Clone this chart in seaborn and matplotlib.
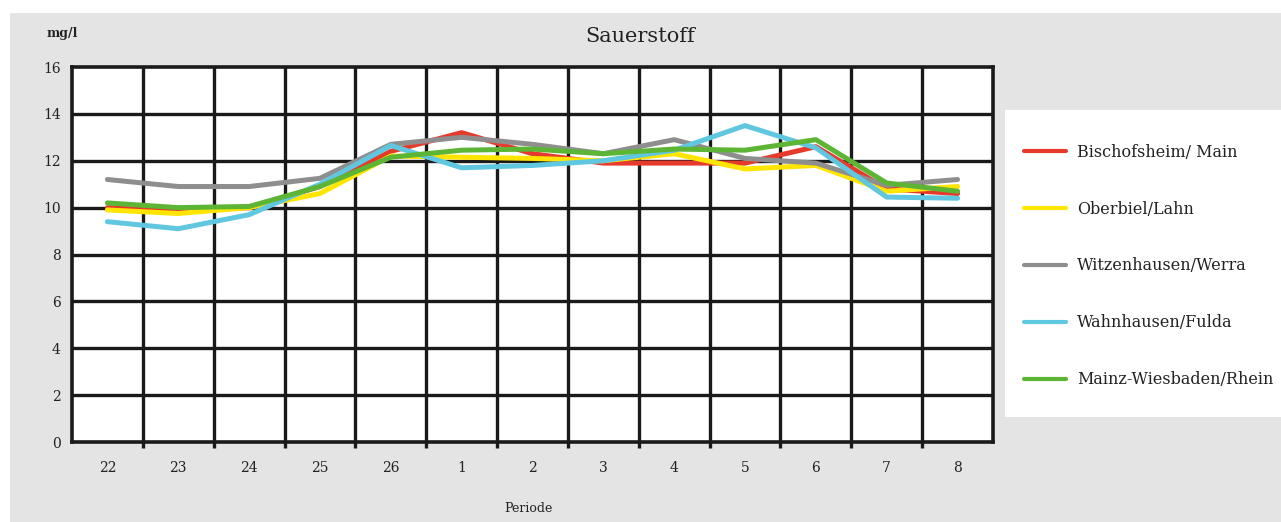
import numpy as np
import pandas as pd
import matplotlib
matplotlib.use("Agg")
import matplotlib.pyplot as plt
import seaborn as sns
from matplotlib.patches import Rectangle
from matplotlib.lines import Line2D

periods = ["22", "23", "24", "25", "26", "1", "2", "3", "4", "5", "6", "7", "8"]
bischofsheim = [10.0, 9.9, 10.0, 10.9, 12.4, 13.2, 12.3, 11.9, 11.9, 11.9, 12.6, 10.8, 10.6]
oberbiel = [9.9, 9.75, 10.0, 10.6, 12.2, 12.15, 12.1, 12.0, 12.3, 11.65, 11.8, 10.7, 10.9]
witzenhausen = [11.2, 10.9, 10.9, 11.25, 12.7, 13.0, 12.7, 12.3, 12.9, 12.1, 11.9, 10.95, 11.2]
wahnhausen = [9.4, 9.1, 9.7, 11.0, 12.65, 11.7, 11.8, 12.0, 12.45, 13.5, 12.55, 10.45, 10.4]
mainz = [10.2, 10.0, 10.05, 10.9, 12.15, 12.45, 12.5, 12.3, 12.5, 12.45, 12.9, 11.05, 10.7]

series_names = ["Bischofsheim/ Main", "Oberbiel/Lahn", "Witzenhausen/Werra",
                "Wahnhausen/Fulda", "Mainz-Wiesbaden/Rhein"]
series_vals = [bischofsheim, oberbiel, witzenhausen, wahnhausen, mainz]
colors = ["#e63a2c", "#ffe500", "#8e8e8e", "#5fc7e0", "#5db535"]
y_ticks = [0, 2, 4, 6, 8, 10, 12, 14, 16]

rows = []
for name, vals in zip(series_names, series_vals):
    for i, v in enumerate(vals):
        rows.append({"pos": i, "Periode": periods[i], "value": v, "Station": name})
df = pd.DataFrame(rows)

sns.set_theme(style="white")
plt.rcParams['font.family'] = ['DejaVu Serif']

W, H = 1281, 522
fig = plt.figure(figsize=(W / 100, H / 100), dpi=100, facecolor="white")
fig.patches.append(Rectangle((10 / W, 0), 1 - 10 / W, (H - 13) / H,
                             transform=fig.transFigure, facecolor="#e3e4e3",
                             edgecolor="none", zorder=-10))
# legend panel
fig.patches.append(Rectangle((1005 / W, (H - 417) / H), (W - 1005) / W, (417 - 110) / H,
                             transform=fig.transFigure, facecolor="white",
                             edgecolor="none", zorder=-9))

ax = fig.add_axes([72 / W, (H - 442) / H, (993 - 72) / W, (442 - 67) / H])
ax.set_facecolor("white")

sns.lineplot(data=df, x="pos", y="value", hue="Station", palette=colors,
             hue_order=series_names, linewidth=3.6, ax=ax, legend=False,
             zorder=5)

ax.set_xlim(-0.5, len(periods) - 0.5)
ax.set_ylim(0, 16)
ax.set_xticks(range(len(periods)))
ax.set_xticklabels(periods, fontsize=10)
ax.set_xticks(np.arange(0.5, len(periods) - 1, 1), minor=True)
ax.set_yticks(y_ticks)
ax.set_yticklabels([str(t) for t in y_ticks], fontsize=10)

ax.grid(False)
for xb in np.arange(0.5, len(periods) - 1, 1):
    ax.axvline(xb, color="#1a1a1a", lw=2.4, zorder=2)
for yt in y_ticks[1:-1]:
    ax.axhline(yt, color="#1a1a1a", lw=2.4, zorder=2)
for s in ax.spines.values():
    s.set_color("#1a1a1a")
    s.set_linewidth(2.6)

ax.tick_params(axis="x", which="major", direction="in", length=2, width=2,
               color="#1a1a1a", pad=14, labelcolor="#222222")
ax.tick_params(axis="x", which="minor", direction="out", length=4, width=2.4,
               color="#1a1a1a", bottom=True)
ax.tick_params(axis="y", which="major", direction="out", length=4, width=1.5,
               color="#1a1a1a", pad=4, labelcolor="#222222")
ax.set_xlabel("")
ax.set_ylabel("")

fig.text(640 / W, (H - 36) / H, "Sauerstoff", ha="center", va="center",
         fontsize=15, color="#222222")
fig.text(62 / W, (H - 33) / H, "mg/l", ha="center", va="center",
         fontsize=9, fontweight="bold", color="#222222")
fig.text(528 / W, (H - 508) / H, "Periode", ha="center", va="center",
         fontsize=9, color="#222222")

handles = [Line2D([0], [0], color=c, lw=3) for c in colors]
leg = fig.legend(handles, series_names, loc="center left",
                 bbox_to_anchor=(1010 / W, (H - 266) / H), frameon=False,
                 fontsize=11.5, handlelength=2.6, labelspacing=2.5,
                 handletextpad=0.7, labelcolor="#222222")

fig.savefig("out.png", dpi=100, facecolor="white")
